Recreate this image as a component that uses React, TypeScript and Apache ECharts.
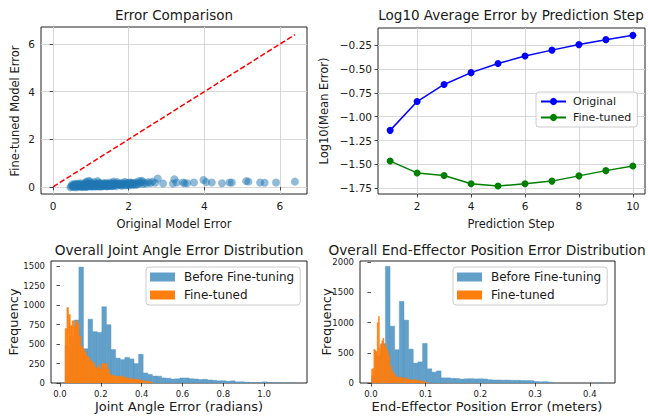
import React, { useEffect, useRef } from 'react';
import * as echarts from 'echarts';

const FONT = '"DejaVu Sans", sans-serif';
const TXT = '#1a1a1a';

// ---------- Top-left: scatter of errors ----------
const ORIGINAL_ERR = [
  0.48, 0.50, 0.52, 0.55, 0.57, 0.58, 0.60, 0.62, 0.63, 0.65, 0.67, 0.68, 0.70, 0.72, 0.74, 0.75, 0.77, 0.79, 0.80, 0.82,
  0.84, 0.85, 0.87, 0.88, 0.88, 0.90, 0.92, 0.93, 0.95, 0.95, 0.97, 0.98, 1.00, 1.02, 1.03, 1.05, 1.07, 1.08, 1.10, 1.12,
  1.13, 1.15, 1.17, 1.18, 1.18, 1.20, 1.22, 1.23, 1.25, 1.27, 1.28, 1.30, 1.32, 1.33, 1.35, 1.37, 1.38, 1.40, 1.42, 1.43,
  1.45, 1.47, 1.48, 1.50, 1.52, 1.53, 1.55, 1.57, 1.58, 1.60, 1.60, 1.62, 1.63, 1.65, 1.67, 1.68, 1.70, 1.72, 1.73, 1.75,
  1.77, 1.78, 1.80, 1.82, 1.83, 1.85, 1.87, 1.88, 1.90, 1.92, 1.93, 1.95, 1.97, 1.98, 2.00, 2.02, 2.03, 2.05, 2.07, 2.08,
  2.10, 2.12, 2.13, 2.16, 2.18, 2.20, 2.23, 2.25, 2.27, 2.30, 2.34, 2.35, 2.38, 2.42, 2.47, 2.52, 2.58, 2.63, 2.70, 2.77,
  2.91, 3.17, 3.21, 3.27, 3.44, 3.48, 3.55, 3.73, 3.98, 4.05, 4.20, 4.47, 4.67, 4.73, 5.11, 5.17, 5.48, 5.60, 5.90, 6.40,
  0.46, 0.53, 0.56, 0.61, 0.64, 0.69, 0.71, 0.76, 0.78, 0.81, 0.83, 0.86, 0.89, 0.91, 0.94, 0.96, 0.99, 1.01, 1.04, 1.06,
  1.09, 1.11, 1.14, 1.16, 1.19, 1.21, 1.24, 1.26, 1.29, 1.31, 1.34, 1.36, 1.39, 1.41, 1.44, 1.46, 1.49, 1.51, 1.54, 1.56,
];
const FINETUNED_ERR = [
  0.02, 0.10, 0.05, -0.01, 0.13, 0.08, 0.03, 0.12, 0.02, 0.06, 0.00, 0.14, 0.10, 0.04, 0.01, 0.15, 0.07, 0.09, 0.02, 0.11,
  0.13, 0.05, 0.18, 0.00, 0.22, 0.08, 0.13, 0.06, 0.03, 0.25, 0.22, 0.12, 0.09, 0.16, 0.01, 0.05, 0.12, 0.08, 0.20, 0.07,
  0.11, 0.14, 0.02, 0.05, 0.24, 0.10, 0.17, 0.13, 0.06, 0.12, 0.03, 0.09, 0.15, 0.07, 0.04, 0.11, 0.16, 0.08, 0.14, 0.02,
  0.06, 0.09, 0.12, 0.18, 0.04, 0.09, 0.13, 0.15, 0.05, 0.11, 0.22, 0.07, 0.16, 0.08, 0.03, 0.12, 0.20, 0.13, 0.10, 0.14,
  0.10, 0.07, 0.12, 0.05, 0.17, 0.09, 0.11, 0.13, 0.21, 0.06, 0.10, 0.15, 0.16, 0.08, 0.12, 0.07, 0.18, 0.11, 0.17, 0.14,
  0.09, 0.11, 0.16, 0.12, 0.08, 0.19, 0.13, 0.11, 0.24, 0.15, 0.21, 0.26, 0.12, 0.18, 0.14, 0.20, 0.16, 0.22, 0.17, 0.35,
  0.14, 0.14, 0.32, 0.18, 0.18, 0.15, 0.15, 0.18, 0.29, 0.20, 0.18, 0.15, 0.18, 0.18, 0.24, 0.22, 0.18, 0.17, 0.18, 0.22,
  -0.02, 0.01, 0.04, -0.02, 0.09, 0.03, 0.07, -0.01, 0.04, 0.06, 0.00, 0.03, 0.05, 0.01, 0.09, 0.04, 0.02, 0.06, 0.10, 0.03,
  0.04, 0.01, 0.06, 0.09, 0.03, 0.07, 0.01, 0.09, 0.05, 0.02, 0.10, 0.06, 0.03, 0.10, 0.07, 0.04, 0.06, 0.10, 0.07, 0.03,
];

// ---------- Top-right: log10 mean error per step ----------
const STEPS = [1, 2, 3, 4, 5, 6, 7, 8, 9, 10];
const ORIGINAL_LOG = [-1.143, -0.841, -0.662, -0.538, -0.443, -0.363, -0.302, -0.244, -0.192, -0.147];
const FINETUNED_LOG = [-1.465, -1.589, -1.617, -1.702, -1.727, -1.702, -1.675, -1.62, -1.565, -1.517];

// ---------- Bottom-left: joint angle error histograms ----------
const JOINT_BEFORE_START = 0.025;
const JOINT_BEFORE_WIDTH = 0.0225;
const JOINT_BEFORE = [
  480, 600, 810, 1490, 440, 820, 660, 650, 980, 750, 430, 320, 300, 330, 310, 250, 370, 130, 110, 90,
  88, 65, 62, 50, 55, 65, 65, 55, 52, 45, 48, 40, 35, 28, 30, 22, 28, 15, 15, 12,
  5, 3, 2, 15, 3, 1, 2, 0, 1, 1,
];
const JOINT_AFTER_START = 0.025;
const JOINT_AFTER_WIDTH = 0.0086;
const JOINT_AFTER = [
  700, 970, 880, 740, 800, 730, 800, 760, 600, 470, 440, 400, 350, 330, 290, 270, 250, 200, 190, 230,
  180, 255, 245, 250, 180, 120, 95, 100, 90, 85, 80, 90, 85, 70, 75, 65, 60, 55, 50, 55,
  45, 45, 40, 35, 30, 25, 20, 25, 15, 10,
];

// ---------- Bottom-right: end-effector position error histograms ----------
const EE_BEFORE_START = 0.001;
const EE_BEFORE_WIDTH = 0.00848;
const EE_BEFORE = [
  120, 450, 650, 1930, 940, 550, 1350, 1040, 560, 330, 350, 655, 235, 180, 200, 85, 85, 78, 75, 65,
  70, 72, 68, 70, 66, 55, 50, 50, 48, 48, 45, 45, 42, 40, 40, 25, 20, 22, 15, 0,
  0, 0, 0, 0, 0, 0, 0, 0, 0, 1,
];
const EE_AFTER_START = 0.001;
const EE_AFTER_WIDTH = 0.00208;
const EE_AFTER = [
  230, 240, 560, 540, 520, 1000, 1100, 580, 640, 700, 740, 600, 650, 560, 520, 450, 300, 260, 190, 160,
  140, 100, 105, 95, 90, 100, 85, 80, 75, 90, 70, 60, 65, 55, 50, 55, 50, 45, 60, 40,
  45, 40, 35, 38, 30, 25, 20, 15, 10, 8,
];

const TL_TICKS = [0, 2, 4, 6];
const TR_X_TICKS = [2, 4, 6, 8, 10];
const TR_Y_TICKS = [-1.75, -1.5, -1.25, -1.0, -0.75, -0.5, -0.25];
const BL_X_TICKS = [0, 0.2, 0.4, 0.6, 0.8, 1.0];
const BL_Y_TICKS = [0, 250, 500, 750, 1000, 1250, 1500];
const BR_X_TICKS = [0, 0.1, 0.2, 0.3, 0.4];
const BR_Y_TICKS = [0, 500, 1000, 1500, 2000];

const BLUE_HIST = '#62a0ca';
const BLUE_EDGE = '#4f93c2';
const ORANGE = '#ff7f0e';

function toBins(counts: number[], start: number, width: number) {
  return counts.map((c, i) => [start + i * width, start + (i + 1) * width, c]);
}

function axis(gridIndex: number, min: number, max: number, ticks: number[], fmt: (v: number) => string, fontSize: number, split: boolean) {
  return {
    type: 'value',
    gridIndex,
    min,
    max,
    axisLine: { show: false },
    axisTick: { show: true, length: 3.5, customValues: ticks, lineStyle: { color: '#222', width: 0.8 } },
    axisLabel: { customValues: ticks, formatter: fmt, fontSize, color: TXT, fontFamily: FONT, margin: 6 },
    splitLine: { show: split, lineStyle: { color: '#d4d4d4', width: 0.9 } },
  };
}

function histSeries(name: string, idx: number, data: number[][], color: string, edge: string) {
  return {
    type: 'custom',
    name,
    xAxisIndex: idx,
    yAxisIndex: idx,
    data,
    encode: { x: [0, 1], y: 2 },
    itemStyle: { color },
    clip: true,
    renderItem: (params: any, api: any) => {
      const a = api.coord([api.value(0), api.value(2)]);
      const b = api.coord([api.value(1), 0]);
      const h = b[1] - a[1];
      if (h <= 0) return null;
      return {
        type: 'rect',
        shape: { x: a[0], y: a[1], width: b[0] - a[0], height: h },
        style: { fill: color, stroke: edge, lineWidth: 0.4 },
      };
    },
  };
}

function txt(text: string, x: number, y: number, size: number, rotate = false) {
  return {
    type: 'text',
    x,
    y,
    rotation: rotate ? Math.PI / 2 : 0,
    style: { text, font: `${size}px "DejaVu Sans"`, fill: TXT, textAlign: 'center', textVerticalAlign: 'middle' },
  };
}

const fmtInt = (v: number) => String(Math.round(v));
const fmt1 = (v: number) => v.toFixed(1);
const fmtNeg = (v: number) => (v < 0 ? '\u2212' : '') + Math.abs(v).toFixed(2);

export default function App() {
  const ref = useRef<HTMLDivElement>(null);
  useEffect(() => {
    document.body.style.margin = '0';
    const chart = echarts.init(ref.current!, null, { renderer: 'svg' });
    const scatter = ORIGINAL_ERR.map((x, i) => [x, FINETUNED_ERR[i]]);
    const maxOrig = Math.max(...ORIGINAL_ERR);
    const gridStyle = { show: true, borderColor: '#222', borderWidth: 1, backgroundColor: 'transparent' };
    const bottomLegend = (left: number) => ({
      left,
      top: 267,
      orient: 'vertical',
      data: ['Before Fine-tuning', 'Fine-tuned (hist)'],
      formatter: (n: string) => n.replace(' (hist)', ''),
      icon: 'rect',
      itemWidth: 25,
      itemHeight: 9,
      itemGap: 6,
      padding: [4, 6, 4, 4],
      backgroundColor: 'rgba(255,255,255,0.8)',
      borderColor: '#cccccc',
      borderWidth: 1,
      borderRadius: 3,
      selectedMode: false,
      textStyle: { fontSize: 12, color: TXT, fontFamily: FONT, padding: [0, 0, 0, 4] },
    });
    chart.setOption({
      animation: false,
      backgroundColor: '#ffffff',
      textStyle: { fontFamily: FONT },
      grid: [
        { left: 41, top: 27, width: 266, height: 167, ...gridStyle },
        { left: 378, top: 28, width: 267, height: 166, ...gridStyle },
        { left: 51, top: 261, width: 256, height: 122, ...gridStyle },
        { left: 360, top: 261, width: 255, height: 122, ...gridStyle },
      ],
      xAxis: [
        axis(0, -0.32, 6.72, TL_TICKS, fmtInt, 10.5, true),
        axis(1, 0.55, 10.45, TR_X_TICKS, fmtInt, 10.5, true),
        axis(2, -0.044, 1.21, BL_X_TICKS, fmt1, 8.5, false),
        axis(3, -0.02, 0.446, BR_X_TICKS, fmt1, 8.5, false),
      ],
      yAxis: [
        axis(0, -0.3, 6.72, TL_TICKS, fmtInt, 10.5, true),
        axis(1, -1.81, -0.07, TR_Y_TICKS, fmtNeg, 10.5, true),
        axis(2, 0, 1568, BL_Y_TICKS, fmtInt, 8.5, false),
        axis(3, 0, 2018, BR_Y_TICKS, fmtInt, 8.5, false),
      ],
      legend: [
        {
          left: 536,
          top: 92,
          orient: 'vertical',
          data: ['Original', 'Fine-tuned'],
          itemWidth: 25,
          itemHeight: 9,
          itemGap: 5,
          padding: [4, 6, 4, 4],
          backgroundColor: 'rgba(255,255,255,0.8)',
          borderColor: '#cccccc',
          borderWidth: 1,
          borderRadius: 3,
          selectedMode: false,
          textStyle: { fontSize: 11, color: TXT, fontFamily: FONT, padding: [0, 0, 0, 2] },
        },
        bottomLegend(146),
        bottomLegend(453),
      ],
      series: [
        {
          type: 'scatter',
          xAxisIndex: 0,
          yAxisIndex: 0,
          data: scatter,
          symbolSize: 8,
          itemStyle: { color: '#1f77b4', opacity: 0.5 },
          z: 2,
        },
        {
          type: 'line',
          xAxisIndex: 0,
          yAxisIndex: 0,
          data: [[0, 0], [maxOrig, maxOrig]],
          showSymbol: false,
          symbol: 'none',
          lineStyle: { color: '#ff0000', width: 1.5, type: [5.5, 2.4] },
          z: 3,
        },
        {
          type: 'line',
          name: 'Original',
          xAxisIndex: 1,
          yAxisIndex: 1,
          data: STEPS.map((s, i) => [s, ORIGINAL_LOG[i]]),
          symbol: 'circle',
          symbolSize: 7,
          itemStyle: { color: '#0000ff' },
          lineStyle: { color: '#0000ff', width: 1.5 },
        },
        {
          type: 'line',
          name: 'Fine-tuned',
          xAxisIndex: 1,
          yAxisIndex: 1,
          data: STEPS.map((s, i) => [s, FINETUNED_LOG[i]]),
          symbol: 'circle',
          symbolSize: 7,
          itemStyle: { color: '#008000' },
          lineStyle: { color: '#008000', width: 1.5 },
        },
        histSeries('Before Fine-tuning', 2, toBins(JOINT_BEFORE, JOINT_BEFORE_START, JOINT_BEFORE_WIDTH), BLUE_HIST, BLUE_EDGE),
        histSeries('Fine-tuned (hist)', 2, toBins(JOINT_AFTER, JOINT_AFTER_START, JOINT_AFTER_WIDTH), ORANGE, ORANGE),
        histSeries('Before Fine-tuning', 3, toBins(EE_BEFORE, EE_BEFORE_START, EE_BEFORE_WIDTH), BLUE_HIST, BLUE_EDGE),
        histSeries('Fine-tuned (hist)', 3, toBins(EE_AFTER, EE_AFTER_START, EE_AFTER_WIDTH), ORANGE, ORANGE),
      ],
      graphic: [
        txt('Error Comparison', 174, 15, 13.5),
        txt('Log10 Average Error by Prediction Step', 511, 15, 13.5),
        txt('Original Model Error', 174, 224, 11.5),
        txt('Fine-tuned Model Error', 15, 111, 11.5, true),
        txt('Prediction Step', 511, 224, 11.5),
        txt('Log10(Mean Error)', 324, 111, 11.5, true),
        txt('Overall Joint Angle Error Distribution', 179, 250, 13.7),
        txt('Joint Angle Error (radians)', 179, 406, 13),
        txt('Frequency', 13, 322, 13, true),
        txt('Overall End-Effector Position Error Distribution', 487, 250, 13.7),
        txt('End-Effector Position Error (meters)', 487, 406, 13),
        txt('Frequency', 326, 322, 13, true),
      ],
    });
    return () => chart.dispose();
  }, []);
  return <div ref={ref} style={{ width: 648, height: 418 }} />;
}
